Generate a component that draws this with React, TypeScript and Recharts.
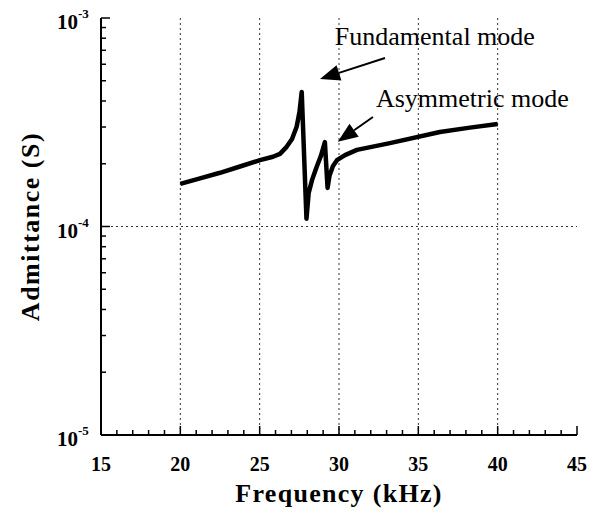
import { LineChart, Line, XAxis, YAxis, ReferenceLine, ReferenceDot } from "recharts";

const FONT = "Liberation Serif";

// Frequency (kHz) and admittance (S)
const frequencies = [
  20.0, 21.24, 22.5, 23.76, 25.02, 25.84, 26.28, 26.7, 27.04, 27.33,
  27.51, 27.65, 27.95, 28.09, 28.3, 28.59, 28.86, 29.11, 29.28, 29.4,
  29.62, 29.87, 30.38, 31.13, 33.21, 36.36, 38.25, 40.0,
];
const admittance = [
  1.6e-4, 1.7e-4, 1.81e-4, 1.94e-4, 2.08e-4, 2.16e-4, 2.23e-4, 2.41e-4, 2.63e-4, 3.01e-4,
  3.54e-4, 4.42e-4, 1.09e-4, 1.45e-4, 1.67e-4, 1.93e-4, 2.18e-4, 2.54e-4, 1.53e-4, 1.75e-4,
  1.95e-4, 2.08e-4, 2.2e-4, 2.33e-4, 2.51e-4, 2.84e-4, 2.98e-4, 3.1e-4,
];

const xMajorTicks = [15, 20, 25, 30, 35, 40, 45];
const xGridLines = [20, 25, 30, 35, 40];
const yDecades = [1e-5, 1e-4, 1e-3];
const yExponents = ["-5", "-4", "-3"];
const yMantissas = [1, 2, 3, 4, 5, 6, 7, 8, 9];

// annotations: label text position, arrow start and arrow tip, in data units
const annotations = [
  { text: "Fundamental mode", at: [29.74, 7.42e-4], from: [32.9, 6.43e-4], to: [28.8, 5.1e-4] },
  { text: "Asymmetric mode", at: [32.33, 3.74e-4], from: [32.14, 3.35e-4], to: [29.92, 2.55e-4] },
];

const data = frequencies.map((f, i) => ({ f, y: admittance[i] }));

const xTicks: number[] = [];
for (let v = xMajorTicks[0]; v <= xMajorTicks[xMajorTicks.length - 1]; v++) xTicks.push(v);
const yTicks: number[] = [];
yDecades.forEach((d, i) => {
  if (i === yDecades.length - 1) yTicks.push(d);
  else yMantissas.forEach((m) => yTicks.push(m * d));
});

const isMajorX = (v: number) => xMajorTicks.includes(v);
const decadeIndex = (v: number) =>
  yDecades.findIndex((d) => Math.abs(v / d - 1) < 1e-6);

const boldText = { fontFamily: FONT, fontWeight: 700 as const };

function BottomTick({ x, y, payload }: any) {
  const major = isMajorX(payload.value);
  return (
    <g>
      <line x1={x} x2={x} y1={y} y2={y - (major ? 9 : 5)} stroke="#000" strokeWidth={1.5} />
      {major && (
        <text x={x} y={y + 36} textAnchor="middle" fill="#000" style={{ ...boldText, fontSize: 20 }}>
          {payload.value}
        </text>
      )}
    </g>
  );
}

function TopTick({ x, y, payload }: any) {
  const major = isMajorX(payload.value);
  return <line x1={x} x2={x} y1={y} y2={y + (major ? 9 : 5)} stroke="#000" strokeWidth={1.5} />;
}

function LeftTick({ x, y, payload }: any) {
  const idx = decadeIndex(payload.value);
  const major = idx >= 0;
  return (
    <g>
      <line x1={x} x2={x + (major ? 9 : 5)} y1={y} y2={y} stroke="#000" strokeWidth={1.5} />
      {major && (
        <text x={x - 44} y={y + 11} fill="#000" style={{ ...boldText, fontSize: 21 }}>
          10
          <tspan dy={-11} style={{ fontSize: 13 }}>
            {yExponents[idx]}
          </tspan>
        </text>
      )}
    </g>
  );
}

function RightTick({ x, y, payload }: any) {
  const major = decadeIndex(payload.value) >= 0;
  return <line x1={x} x2={x - (major ? 9 : 5)} y1={y} y2={y} stroke="#000" strokeWidth={1.5} />;
}

function arrowShape(props: any) {
  const { x1, y1, x2, y2 } = props;
  const ang = Math.atan2(y2 - y1, x2 - x1);
  const L = 20;
  const W = 8;
  const bx = x2 - L * Math.cos(ang);
  const by = y2 - L * Math.sin(ang);
  const pts = `${x2},${y2} ${bx + W * Math.sin(ang)},${by - W * Math.cos(ang)} ${bx - W * Math.sin(ang)},${by + W * Math.cos(ang)}`;
  return (
    <g>
      <line x1={x1} y1={y1} x2={bx} y2={by} stroke="#000" strokeWidth={2} />
      <polygon points={pts} fill="#000" />
    </g>
  );
}

const axisLine = { stroke: "#000", strokeWidth: 2 };

export default function App() {
  return (
    <div style={{ position: "absolute", left: 0, top: 0, background: "#fff" }}>
      <LineChart width={601} height={514} data={data} margin={{ top: 18, right: 24, left: 0, bottom: 0 }}>
        <XAxis
          dataKey="f"
          type="number"
          domain={[15, 45]}
          ticks={xTicks}
          interval={0}
          height={79}
          tickSize={0}
          tickMargin={0}
          tickLine={false}
          axisLine={axisLine}
          tick={<BottomTick />}
          label={{
            content: (p: any) => (
              <text
                x={p.viewBox.x + p.viewBox.width / 2}
                y={p.viewBox.y + 67}
                textAnchor="middle"
                fill="#000"
                style={{ ...boldText, fontSize: 26, letterSpacing: 1.3 }}
              >
                Frequency (kHz)
              </text>
            ),
          }}
        />
        <XAxis
          xAxisId="top"
          orientation="top"
          dataKey="f"
          type="number"
          domain={[15, 45]}
          ticks={xTicks}
          interval={0}
          height={0}
          tickSize={0}
          tickMargin={0}
          tickLine={false}
          axisLine={axisLine}
          tick={<TopTick />}
        />
        <YAxis
          type="number"
          scale="log"
          domain={[1e-5, 1e-3]}
          allowDataOverflow
          ticks={yTicks}
          interval={0}
          width={101}
          tickSize={0}
          tickMargin={0}
          tickLine={false}
          axisLine={axisLine}
          tick={<LeftTick />}
          label={{
            content: (p: any) => {
              const cx = 30;
              const cy = p.viewBox.y + p.viewBox.height / 2;
              return (
                <text
                  x={cx}
                  y={cy}
                  transform={`rotate(-90 ${cx} ${cy})`}
                  textAnchor="middle"
                  dominantBaseline="central"
                  fill="#000"
                  style={{ ...boldText, fontSize: 26, letterSpacing: 1.5 }}
                >
                  Admittance (S)
                </text>
              );
            },
          }}
        />
        <YAxis
          yAxisId="right"
          orientation="right"
          type="number"
          scale="log"
          domain={[1e-5, 1e-3]}
          allowDataOverflow
          ticks={yTicks}
          interval={0}
          width={0}
          tickSize={0}
          tickMargin={0}
          tickLine={false}
          axisLine={axisLine}
          tick={<RightTick />}
        />
        {xGridLines.map((v) => (
          <ReferenceLine key={`gx${v}`} x={v} stroke="#333" strokeWidth={1} strokeDasharray="2 3" />
        ))}
        <ReferenceLine y={yDecades[1]} stroke="#333" strokeWidth={1} strokeDasharray="2 3" />
        <Line
          type="linear"
          dataKey="y"
          stroke="#000"
          strokeWidth={4.5}
          strokeLinejoin="round"
          dot={false}
          isAnimationActive={false}
        />
        {annotations.map((a) => (
          <ReferenceLine
            key={`arrow-${a.text}`}
            segment={[
              { x: a.from[0], y: a.from[1] },
              { x: a.to[0], y: a.to[1] },
            ]}
            shape={arrowShape}
          />
        ))}
        {annotations.map((a) => (
          <ReferenceDot
            key={`label-${a.text}`}
            x={a.at[0]}
            y={a.at[1]}
            r={0}
            shape={(p: any) => (
              <text x={p.cx} y={p.cy} fill="#000" style={{ fontFamily: FONT, fontSize: 26 }}>
                {a.text}
              </text>
            )}
          />
        ))}
      </LineChart>
    </div>
  );
}
